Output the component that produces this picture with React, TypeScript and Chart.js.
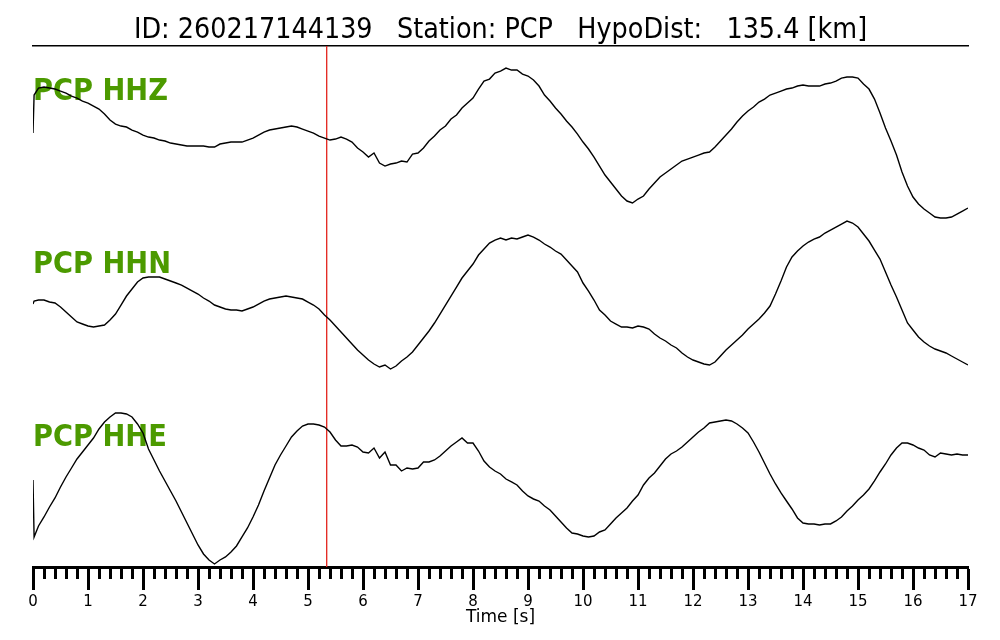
import React, { useEffect, useRef } from "react";
import { Chart, registerables } from "chart.js";

Chart.register(...registerables);

// ---------------- data ----------------
const TITLE = "ID: 260217144139   Station: PCP   HypoDist:   135.4 [km]";
const CHANNELS = ["PCP HHZ", "PCP HHN", "PCP HHE"];
const X_LABEL = "Time [s]";
const PICK_TIME = 5.34; // s, red marker
const T_MAX = 17;
const X_TICK_STEP = 1;
const X_MINOR_STEP = 0.2;

// sample times (s): first sample, a near-instant second sample, then every 0.1 s
const TIMES = [0, 0.02, ...Array.from({ length: 170 }, (_, i) => (i + 1) / 10)];

// amplitudes (counts)
const HHZ = [
  10, 48,
  55, 56, 55, 54, 52, 50, 47, 45, 42, 40,
  37, 34, 29, 23, 19, 17, 16, 13, 11, 8,
  6, 5, 3, 2, 0, -1, -2, -3, -3, -3,
  -3, -4, -4, -1, 0, 1, 1, 1, 3, 5,
  8, 11, 13, 14, 15, 16, 17, 16, 14, 12,
  10, 7, 5, 3, 4, 6, 4, 1, -5, -9,
  -14, -10, -20, -23, -21, -20, -18, -19, -11, -10,
  -5, 2, 7, 13, 17, 24, 28, 35, 40, 45,
  54, 62, 64, 70, 72, 75, 73, 73, 69, 67,
  63, 57, 48, 42, 35, 29, 22, 16, 9, 1,
  -6, -14, -23, -32, -39, -46, -53, -58, -60, -56,
  -53, -46, -40, -34, -30, -26, -22, -18, -16, -14,
  -12, -10, -9, -4, 2, 8, 14, 21, 27, 32,
  36, 41, 44, 48, 50, 52, 54, 55, 57, 58,
  57, 57, 57, 59, 60, 62, 65, 66, 66, 65,
  59, 54, 44, 30, 15, 2, -12, -29, -43, -54,
  -61, -66, -70, -74, -75, -75, -74, -71, -68, -65,
];

const HHN = [
  12, 15,
  16, 16, 14, 13, 9, 4, -1, -6, -8, -10,
  -11, -10, -9, -4, 2, 11, 20, 27, 34, 38,
  39, 39, 39, 37, 35, 33, 31, 28, 25, 22,
  18, 15, 11, 9, 7, 6, 6, 5, 7, 9,
  12, 15, 17, 18, 19, 20, 19, 18, 17, 14,
  11, 7, 1, -4, -10, -16, -22, -28, -34, -39,
  -44, -48, -51, -49, -53, -50, -45, -41, -36, -29,
  -22, -15, -7, 2, 11, 20, 29, 38, 45, 52,
  61, 67, 73, 76, 78, 76, 78, 77, 79, 81,
  79, 76, 72, 69, 65, 62, 56, 50, 44, 33,
  25, 16, 6, 1, -5, -8, -11, -11, -12, -10,
  -11, -13, -18, -22, -25, -29, -32, -37, -41, -44,
  -46, -48, -49, -46, -40, -34, -29, -24, -19, -13,
  -8, -3, 3, 10, 22, 35, 49, 59, 65, 70,
  74, 77, 79, 83, 86, 89, 92, 95, 93, 89,
  82, 75, 66, 57, 44, 31, 19, 6, -7, -14,
  -21, -26, -30, -33, -35, -37, -40, -43, -46, -49,
];

const HHE = [
  9, -48,
  -37, -28, -18, -9, 2, 12, 21, 30, 37, 44,
  51, 60, 67, 72, 76, 76, 75, 72, 65, 56,
  40, 29, 18, 8, -2, -12, -23, -34, -45, -56,
  -65, -71, -75, -71, -68, -63, -57, -48, -39, -28,
  -16, -2, 11, 24, 34, 43, 52, 58, 63, 65,
  65, 64, 62, 57, 49, 43, 43, 44, 42, 37,
  36, 41, 31, 37, 24, 24, 18, 21, 20, 21,
  27, 27, 29, 33, 38, 43, 47, 51, 46, 46,
  38, 28, 22, 18, 15, 10, 7, 4, -2, -7,
  -10, -12, -17, -21, -27, -33, -39, -44, -45, -47,
  -48, -47, -43, -41, -35, -29, -24, -19, -12, -6,
  4, 11, 16, 23, 30, 35, 38, 42, 47, 52,
  57, 61, 66, 67, 68, 69, 68, 65, 61, 56,
  47, 37, 26, 15, 5, -4, -12, -20, -29, -34,
  -35, -35, -36, -35, -35, -32, -28, -22, -17, -11,
  -6, 0, 8, 17, 25, 34, 41, 46, 46, 44,
  41, 39, 34, 32, 36, 35, 34, 35, 34, 34,
];

const TRACES = [HHZ, HHN, HHE];
const TRACE_SPACING = 173; // counts between trace baselines
const Y_MIN = -0.451;
const Y_MAX = 2.561;
const LABEL_LIFT = 0.295;
const TEXT_SQUEEZE = 0.88;
const LABEL_COLOR = "#4c9a00";

const FONT = '"DejaVu Sans", "Liberation Sans", sans-serif';

const decorPlugin = {
  id: "decor",
  beforeDatasetsDraw(chart: any) {
    const { ctx, chartArea, scales } = chart;
    const y = scales.y;
    ctx.save();
    ctx.fillStyle = LABEL_COLOR;
    ctx.font = `bold 31px ${FONT}`;
    ctx.textBaseline = "middle";
    ctx.textAlign = "left";
    CHANNELS.forEach((name, i) => {
      const offset = CHANNELS.length - 1 - i;
      const py = y.getPixelForValue(offset + LABEL_LIFT);
      ctx.save();
      ctx.translate(chartArea.left, py);
      ctx.scale(TEXT_SQUEEZE, 1);
      ctx.fillText(name, 0, 0);
      ctx.restore();
    });
    ctx.restore();
  },
  afterDraw(chart: any) {
    const { ctx, chartArea, scales } = chart;
    const x = scales.x;
    ctx.save();
    // minor ticks
    ctx.strokeStyle = "#000";
    ctx.lineWidth = 3;
    const n = Math.round(T_MAX / X_MINOR_STEP);
    for (let i = 0; i <= n; i++) {
      const v = i * X_MINOR_STEP;
      if (Math.abs(v - Math.round(v / X_TICK_STEP) * X_TICK_STEP) < 1e-6) continue;
      const px = Math.round(x.getPixelForValue(v)) + 0.5;
      ctx.beginPath();
      ctx.moveTo(px, chartArea.bottom);
      ctx.lineTo(px, chartArea.bottom + 12);
      ctx.stroke();
    }
    // title
    ctx.fillStyle = "#000";
    ctx.font = `29px ${FONT}`;
    ctx.textAlign = "center";
    ctx.textBaseline = "alphabetic";
    ctx.translate((chartArea.left + chartArea.right) / 2, chartArea.top - 8);
    ctx.scale(TEXT_SQUEEZE, 1);
    ctx.fillText(TITLE, 0, 0);
    ctx.restore();
  },
};

export default function App() {
  const canvasRef = useRef<HTMLCanvasElement | null>(null);

  useEffect(() => {
    if (!canvasRef.current) return;
    const traceSets = TRACES.map((vals, i) => ({
      data: TIMES.map((t, k) => ({ x: t, y: TRACES.length - 1 - i + vals[k] / TRACE_SPACING })),
      borderColor: "#000",
      borderWidth: 1.4,
      pointRadius: 0,
      tension: 0,
      fill: false,
    }));
    const pick = {
      data: [
        { x: PICK_TIME, y: Y_MIN },
        { x: PICK_TIME, y: Y_MAX },
      ],
      borderColor: "#e3231c",
      borderWidth: 1.3,
      pointRadius: 0,
      fill: false,
    };
    const chart = new Chart(canvasRef.current, {
      type: "line",
      data: { datasets: [...traceSets, pick] as any },
      options: {
        responsive: false,
        maintainAspectRatio: false,
        animation: false,
        parsing: false as any,
        normalized: true,
        layout: { padding: { top: 46, left: 33, right: 32, bottom: 14 } },
        plugins: {
          legend: { display: false },
          tooltip: { enabled: false },
          title: { display: false },
        },
        scales: {
          x: {
            type: "linear",
            position: "bottom",
            min: 0,
            max: T_MAX,
            border: { display: true, color: "#000", width: 3 },
            grid: {
              display: true,
              drawOnChartArea: false,
              drawTicks: true,
              tickLength: 23,
              tickWidth: 3,
              tickColor: "#000",
            },
            ticks: {
              stepSize: X_TICK_STEP,
              autoSkip: false,
              maxRotation: 0,
              color: "#000",
              padding: 3,
              font: { family: FONT, size: 15 },
            },
            title: {
              display: true,
              text: X_LABEL,
              color: "#000",
              font: { family: FONT, size: 17, lineHeight: 1 },
              padding: { top: -5, bottom: 0 },
            },
          },
          x2: {
            type: "linear",
            position: "top",
            min: 0,
            max: T_MAX,
            display: true,
            border: { display: true, color: "#000", width: 1.5 },
            grid: { display: false, drawTicks: false, tickLength: 0 },
            ticks: { display: false },
          },
          y: { type: "linear", display: false, min: Y_MIN, max: Y_MAX },
        },
      },
      plugins: [decorPlugin],
    });
    return () => chart.destroy();
  }, []);

  return (
    <div style={{ position: "absolute", left: 0, top: 0, width: 1000, height: 640, background: "#fff" }}>
      <canvas ref={canvasRef} width={1000} height={640} style={{ display: "block" }} />
    </div>
  );
}
